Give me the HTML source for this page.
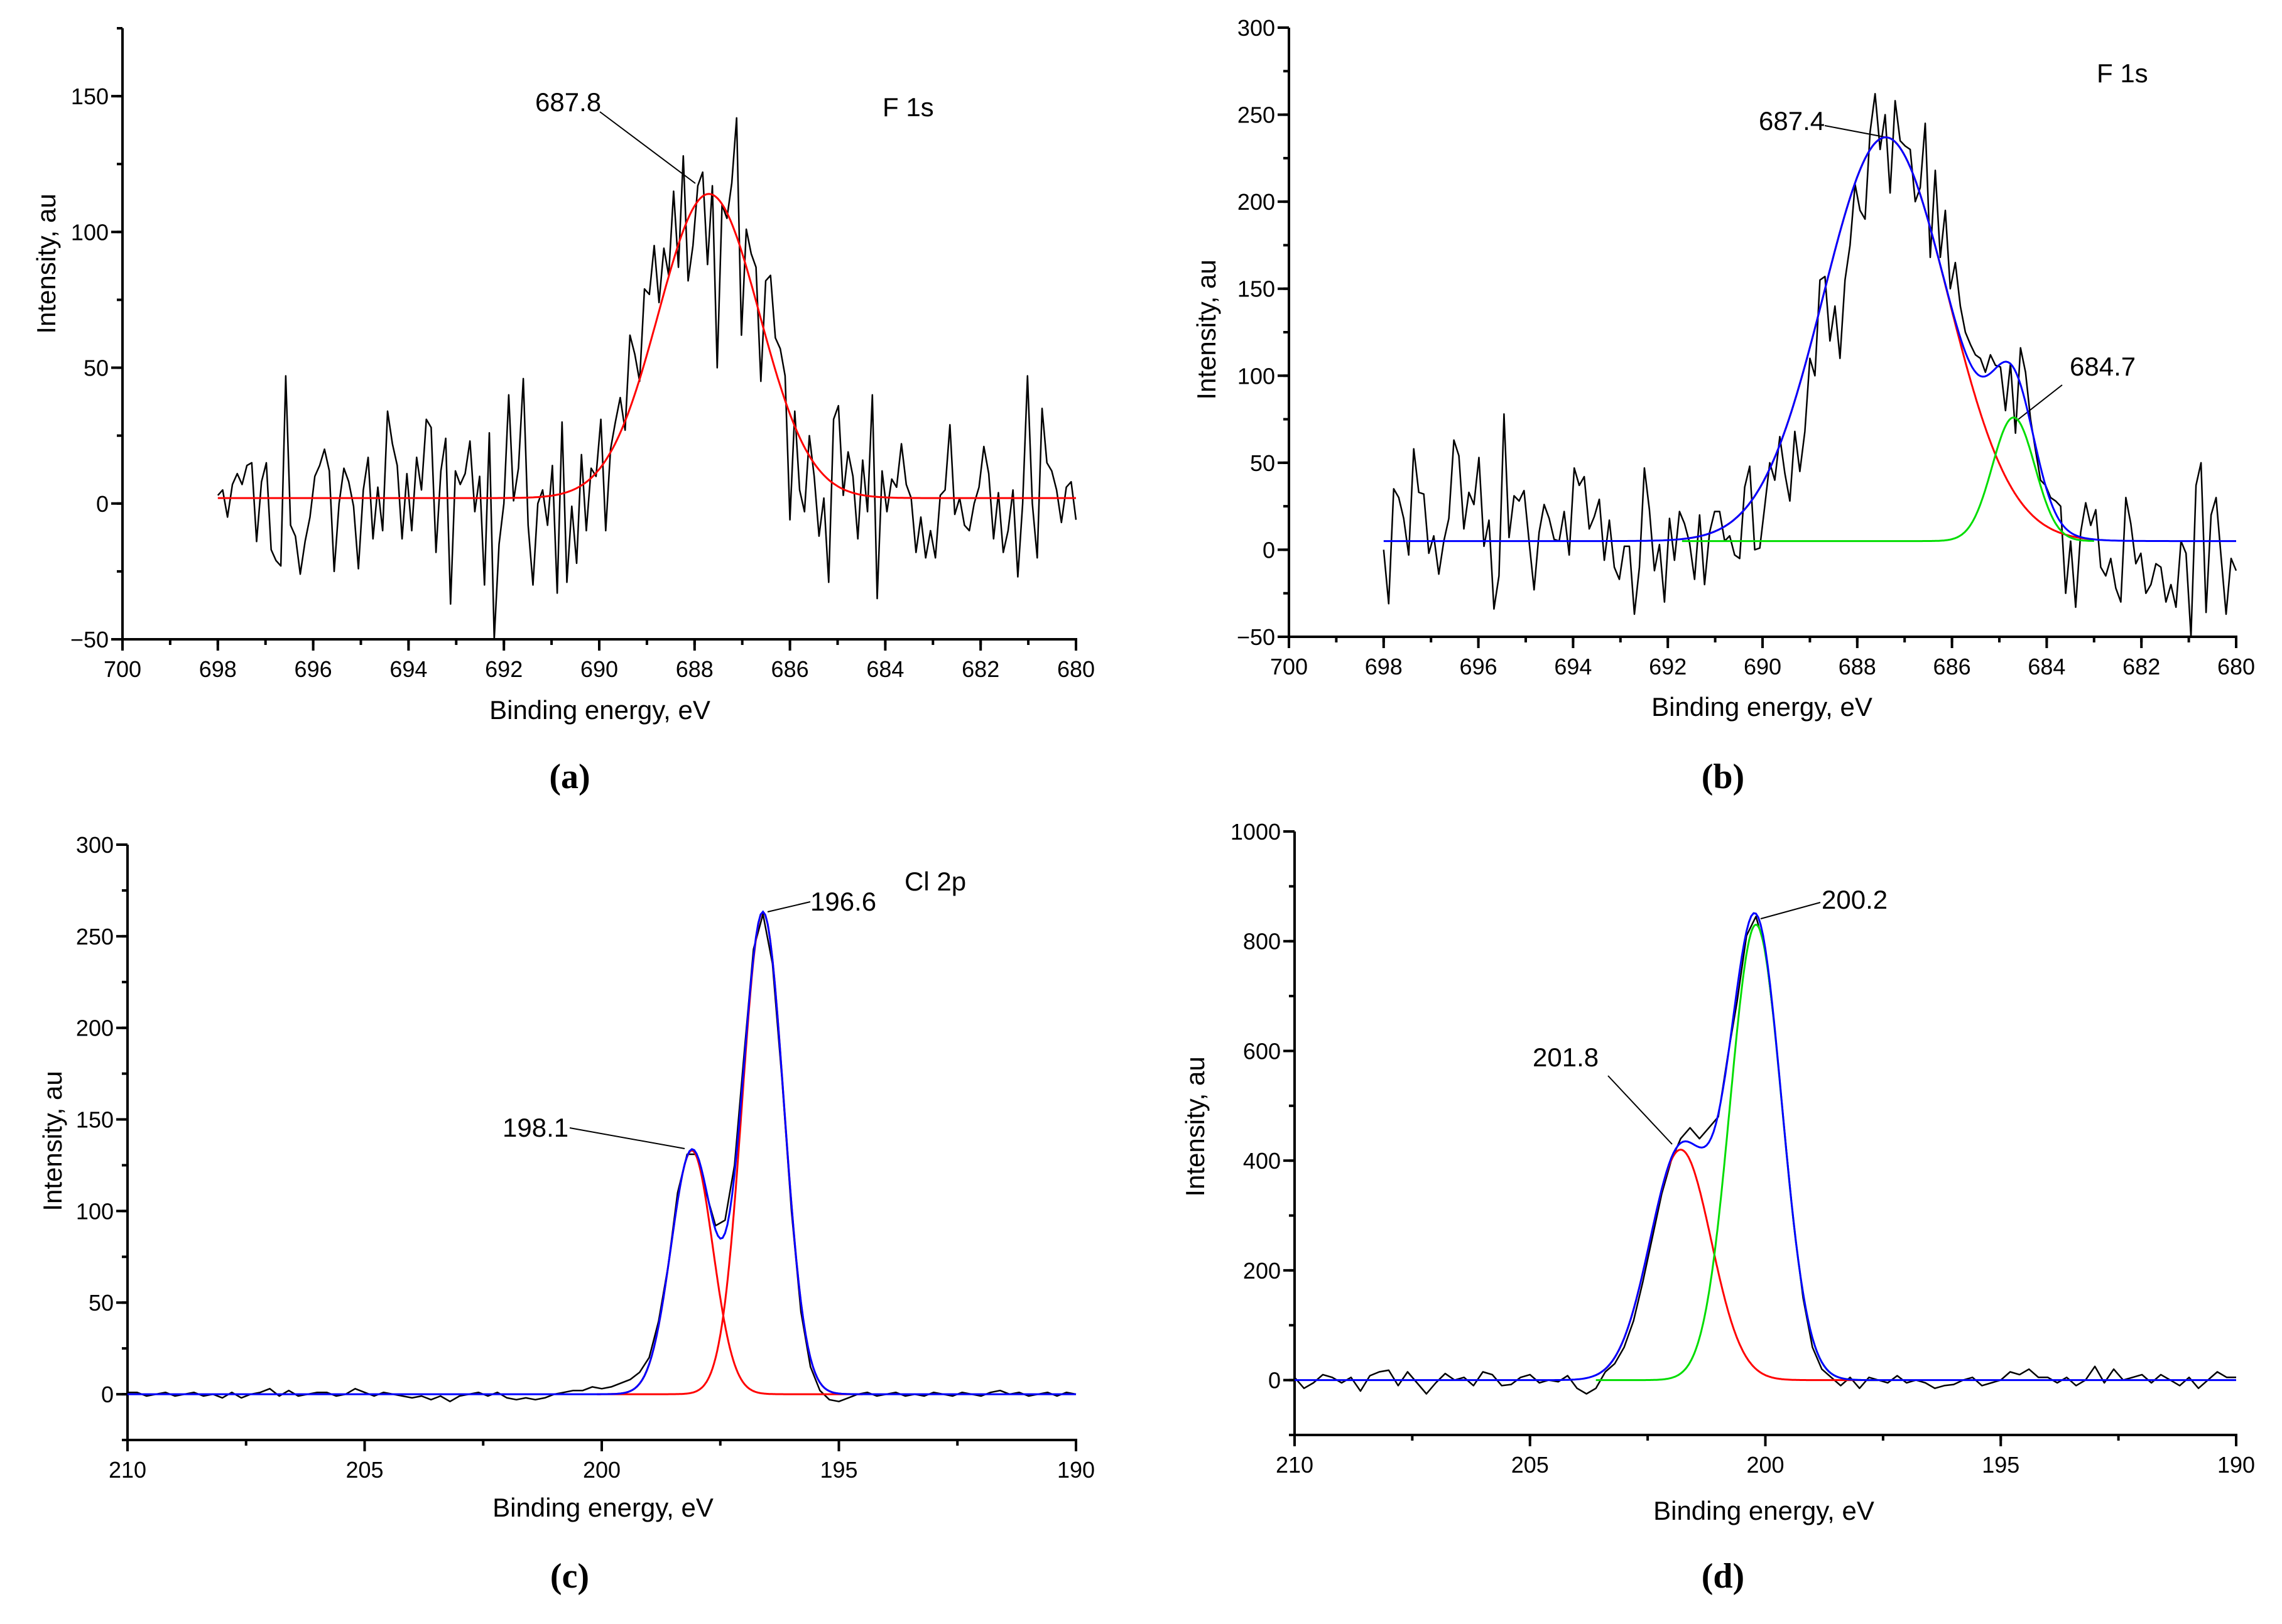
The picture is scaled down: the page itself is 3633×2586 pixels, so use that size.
<!DOCTYPE html>
<html><head><meta charset="utf-8"><title>XPS spectra</title>
<style>
html,body{margin:0;padding:0;background:#fff;}
svg{display:block;font-family:"Liberation Sans",Arial,sans-serif;}
.tl{font-size:36px;fill:#000;}
.at{font-size:42px;fill:#000;}
.ann{font-size:42px;fill:#000;}
.cap{font-family:"Liberation Serif",serif;font-size:56px;fill:#000;}
</style></head>
<body>
<svg id="fig" width="3633" height="2586" viewBox="0 0 3633 2586" xmlns="http://www.w3.org/2000/svg">
<g>
<text class="ann" x="852" y="177">687.8</text>
<line x1="955" y1="178" x2="1107" y2="292" stroke="#000" stroke-width="2"/>
<text class="ann" x="1405" y="185">F 1s</text>
<text class="at" x="955" y="1145" text-anchor="middle">Binding energy, eV</text>
<text class="at" transform="translate(88,420) rotate(-90)" text-anchor="middle">Intensity, au</text>
<text class="cap" x="907" y="1255" text-anchor="middle" font-weight="bold">(a)</text>
</g>
<g>
<text class="ann" x="2800" y="207">687.4</text>
<line x1="2905" y1="200" x2="3010" y2="220" stroke="#000" stroke-width="2"/>
<text class="ann" x="3295" y="598">684.7</text>
<line x1="3283" y1="613" x2="3209" y2="671" stroke="#000" stroke-width="2"/>
<text class="ann" x="3338" y="131">F 1s</text>
<text class="at" x="2805" y="1140" text-anchor="middle">Binding energy, eV</text>
<text class="at" transform="translate(1935,525) rotate(-90)" text-anchor="middle">Intensity, au</text>
<text class="cap" x="2743" y="1255" text-anchor="middle" font-weight="bold">(b)</text>
</g>
<g>
<text class="ann" x="1290" y="1450">196.6</text>
<text class="ann" x="1440" y="1418">Cl 2p</text>
<line x1="1290" y1="1436" x2="1222" y2="1452" stroke="#000" stroke-width="2"/>
<text class="ann" x="800" y="1810">198.1</text>
<line x1="907" y1="1796" x2="1090" y2="1829" stroke="#000" stroke-width="2"/>
<text class="at" x="960" y="2415" text-anchor="middle">Binding energy, eV</text>
<text class="at" transform="translate(98,1817) rotate(-90)" text-anchor="middle">Intensity, au</text>
<text class="cap" x="907" y="2528" text-anchor="middle" font-weight="bold">(c)</text>
</g>
<g>
<text class="ann" x="2900" y="1447">200.2</text>
<line x1="2898" y1="1437" x2="2803" y2="1463" stroke="#000" stroke-width="2"/>
<text class="ann" x="2440" y="1698">201.8</text>
<line x1="2560" y1="1713" x2="2662" y2="1822" stroke="#000" stroke-width="2"/>
<text class="at" x="2808" y="2420" text-anchor="middle">Binding energy, eV</text>
<text class="at" transform="translate(1917,1794) rotate(-90)" text-anchor="middle">Intensity, au</text>
<text class="cap" x="2743" y="2528" text-anchor="middle" font-weight="bold">(d)</text>
</g>
</svg>
<script>
// ---- Panel a (F 1s) data ----
var aRange = [698, 680];
var aCounts = [3,5,-5,7,11,7,14,15,-14,8,15,-17,-21,-23,47,-8,-12,-26,-14,-5,10,14,20,12,-25,0,13,8,-1,-24,5,17,-13,6,-10,34,22,14,-13,11,-10,17,5,31,28,-18,12,24,-37,12,7,11,23,-3,10,-30,26,-50,-15,0,40,1,13,46,-8,-30,0,5,-8,14,-33,30,-29,-1,-22,18,-10,13,10,31,-10,20,30,39,27,62,55,45,79,77,95,74,94,84,115,87,128,82,95,117,122,88,117,50,110,105,118,142,62,101,92,87,45,82,84,61,57,47,-6,34,5,-3,25,10,-12,2,-29,31,36,3,19,10,-13,16,-3,40,-35,12,-3,9,6,22,7,2,-18,-5,-20,-10,-20,3,5,29,-4,2,-8,-10,0,6,21,11,-13,4,-18,-10,5,-27,0,47,0,-20,35,15,12,5,-7,6,8,-6];
var aPeakCenters = [687.7];
var aPeakHeights = [112];
var aPeakSigmas = [1.06];
var aBaseline = [2];

// ---- Panel b (F 1s) data ----
var bRange = [698, 680];
var bCounts = [0,-31,35,30,18,-3,58,33,32,-2,8,-14,5,18,63,54,12,33,26,53,2,17,-34,-15,78,7,31,28,34,5,-23,10,26,18,6,5,22,-3,47,37,42,12,19,29,-6,17,-10,-17,2,2,-37,-10,47,23,-12,3,-30,18,-6,22,15,4,-17,20,-20,10,22,22,5,8,-3,-5,36,48,0,1,25,50,40,65,44,28,68,45,68,110,100,155,157,120,140,110,155,175,210,195,190,240,262,230,250,205,258,235,232,230,200,208,245,168,218,168,195,150,165,140,125,118,112,110,102,112,106,105,80,107,67,116,102,75,57,40,37,30,28,25,-25,5,-33,10,27,14,23,-10,-15,-5,-22,-30,30,15,-8,-2,-25,-20,-8,-10,-30,-20,-33,5,-2,-50,37,50,-36,20,30,-4,-37,-5,-12];
var bPeakCenters = [687.4, 684.7];
var bPeakHeights = [232, 71];
var bPeakSigmas = [1.32, 0.45];
var bBaseline = [5];

// ---- Panel c (Cl 2p) data ----
var cRange = [210, 190];
var cCounts = [1,1,-1,0,1,-1,0,1,-1,0,-2,1,-2,0,1,3,-1,2,-1,0,1,1,-1,0,3,1,-1,1,0,-1,-2,-1,-3,-1,-4,-1,0,1,-1,1,-2,-3,-2,-3,-2,0,1,2,2,4,3,4,6,8,12,20,40,70,110,131,131,110,92,95,125,185,243,262,235,172,100,45,15,2,-3,-4,-2,0,1,-1,0,1,-1,0,-1,1,0,-1,1,0,-1,1,2,0,1,-1,0,1,-1,1,0];
var cPeakCenters = [198.1, 196.6];
var cPeakHeights = [133, 263];
var cPeakSigmas = [0.44, 0.44];
var cBaseline = [0];

// ---- Panel d data ----
var dRange = [210, 190];
var dCounts = [5,-15,-5,10,5,-5,5,-20,8,15,18,-10,15,-5,-25,-5,12,0,5,-10,15,10,-10,-8,5,10,-5,0,-3,8,-15,-25,-15,15,30,60,108,180,260,340,400,440,460,440,460,480,590,690,810,845,785,640,460,285,150,60,20,5,-10,5,-15,5,0,-5,8,-5,0,-5,-15,-10,-8,0,5,-10,-5,0,15,10,20,5,5,-5,5,-10,0,25,-5,20,0,5,10,-5,10,0,-10,5,-15,0,15,5,5];
var dPeakCenters = [201.8, 200.2];
var dPeakHeights = [420, 830];
var dPeakSigmas = [0.65, 0.55];
var dBaseline = [0];

// ---- axis tick arrays ----
var abXTicks = [700,698,696,694,692,690,688,686,684,682,680];
var aYTicks = [-50,0,50,100,150];
var bYTicks = [-50,0,50,100,150,200,250,300];
var cdXTicks = [210,205,200,195,190];
var cYTicks = [0,50,100,150,200,250,300];
var dYTicks = [0,200,400,600,800,1000];

var NS = "http://www.w3.org/2000/svg";
var svg = document.getElementById("fig");

function mk(tag, attrs, parent) {
  var e = document.createElementNS(NS, tag);
  for (var k in attrs) e.setAttribute(k, attrs[k]);
  (parent || svg).appendChild(e);
  return e;
}

function panel(id, xDom, xPx, yDom, yPx, xTicks, xMinor, yTicks, yMinor) {
  var g = mk("g", {});
  
  
  var sx = function (v) { return xPx[0] + (v - xDom[0]) / (xDom[1] - xDom[0]) * (xPx[1] - xPx[0]); };
  var sy = function (v) { return yPx[0] + (v - yDom[0]) / (yDom[1] - yDom[0]) * (yPx[1] - yPx[0]); };
  var ax = mk("g", {}, g);
  
  
  var xa = mk("line", {x1: xPx[0] - 2, y1: yPx[0], x2: xPx[1] + 2, y2: yPx[0], stroke: "#000", "stroke-width": 4}, ax);
  
  
  var ya = mk("line", {x1: xPx[0], y1: yPx[0] + 2, x2: xPx[0], y2: yPx[1], stroke: "#000", "stroke-width": 4}, ax);
  
  
  var lo = Math.min(xDom[0], xDom[1]), hi = Math.max(xDom[0], xDom[1]);
  for (var v = lo; v <= hi + 1e-9; v += xMinor) {
    mk("line", {x1: sx(v), y1: yPx[0], x2: sx(v), y2: yPx[0] + 9, stroke: "#000", "stroke-width": 4}, ax);
  }
  xTicks.forEach(function (t) {
    mk("line", {x1: sx(t), y1: yPx[0], x2: sx(t), y2: yPx[0] + 18, stroke: "#000", "stroke-width": 4}, ax);
    var tx = mk("text", {x: sx(t), y: yPx[0] + 60, "text-anchor": "middle", "class": "tl"}, ax);
    tx.textContent = t;
    
    
  });
  for (var w = yDom[0]; w <= yDom[1] + 1e-9; w += yMinor) {
    mk("line", {x1: xPx[0] - 9, y1: sy(w), x2: xPx[0], y2: sy(w), stroke: "#000", "stroke-width": 4}, ax);
  }
  yTicks.forEach(function (t) {
    mk("line", {x1: xPx[0] - 18, y1: sy(t), x2: xPx[0], y2: sy(t), stroke: "#000", "stroke-width": 4}, ax);
    var ty = mk("text", {x: xPx[0] - 22, y: sy(t) + 13, "text-anchor": "end", "class": "tl"}, ax);
    ty.textContent = (t < 0 ? "\u2212" + (-t) : t);
    
    
  });
  return {g: g, sx: sx, sy: sy};
}

function dataLine(p, range, counts, color, name, width) {
  var n = counts.length, pts = [];
  for (var i = 0; i < n; i++) {
    var x = range[0] + (range[1] - range[0]) * i / (n - 1);
    pts.push(p.sx(x).toFixed(1) + "," + p.sy(counts[i]).toFixed(1));
  }
  var pl = mk("polyline", {points: pts.join(" "), fill: "none", stroke: color, "stroke-width": width || 2.5, "stroke-linejoin": "round"}, p.g);
  
  
}

function fitLine(p, from, to, centers, heights, sigmas, base, idx, color, name) {
  var pts = [], N = 400;
  for (var i = 0; i <= N; i++) {
    var x = from + (to - from) * i / N, y = base[0];
    for (var k = 0; k < centers.length; k++) {
      if (idx === null || idx === k) {
        var d = x - centers[k];
        y += heights[k] * Math.exp(-d * d / (2 * sigmas[k] * sigmas[k]));
      }
    }
    pts.push(p.sx(x).toFixed(1) + "," + p.sy(y).toFixed(1));
  }
  var pl = mk("polyline", {points: pts.join(" "), fill: "none", stroke: color, "stroke-width": 3}, p.g);
  
  
}

var pa = panel("a", [700, 680], [195, 1713], [-50, 175], [1018, 45], abXTicks, 1, aYTicks, 25);
dataLine(pa, aRange, aCounts, "#000", "spectrum-a");
fitLine(pa, 698, 680, aPeakCenters, aPeakHeights, aPeakSigmas, aBaseline, null, "#ff0000", "fit-a");

var pb = panel("b", [700, 680], [2052, 3560], [-50, 300], [1014, 44], abXTicks, 1, bYTicks, 25);
dataLine(pb, bRange, bCounts, "#000", "spectrum-b");
fitLine(pb, 691.7, 683, bPeakCenters, bPeakHeights, bPeakSigmas, bBaseline, 0, "#ff0000", "fit-b-peak-687-4");
fitLine(pb, 691.7, 683, bPeakCenters, bPeakHeights, bPeakSigmas, bBaseline, 1, "#00dd00", "fit-b-peak-684-7");
fitLine(pb, 698, 680, bPeakCenters, bPeakHeights, bPeakSigmas, bBaseline, null, "#0000ff", "fit-b-envelope");

var pc = panel("c", [210, 190], [203, 1713], [-25, 300], [2293, 1345], cdXTicks, 2.5, cYTicks, 25);
dataLine(pc, cRange, cCounts, "#000", "spectrum-c");
fitLine(pc, 200.1, 194.5, cPeakCenters, cPeakHeights, cPeakSigmas, cBaseline, 0, "#ff0000", "fit-c-peak-198-1");
fitLine(pc, 200.1, 194.5, cPeakCenters, cPeakHeights, cPeakSigmas, cBaseline, 1, "#ff0000", "fit-c-peak-196-6");
fitLine(pc, 210, 190, cPeakCenters, cPeakHeights, cPeakSigmas, cBaseline, null, "#0000ff", "fit-c-envelope");

var pd = panel("d", [210, 190], [2061, 3560], [-100, 1000], [2285, 1324], cdXTicks, 2.5, dYTicks, 100);
dataLine(pd, dRange, dCounts, "#000", "spectrum-d");
fitLine(pd, 203.6, 197.6, dPeakCenters, dPeakHeights, dPeakSigmas, dBaseline, 0, "#ff0000", "fit-d-peak-201-8");
fitLine(pd, 203.6, 197.6, dPeakCenters, dPeakHeights, dPeakSigmas, dBaseline, 1, "#00dd00", "fit-d-peak-200-2");
fitLine(pd, 210, 190, dPeakCenters, dPeakHeights, dPeakSigmas, dBaseline, null, "#0000ff", "fit-d-envelope");
</script>
</body></html>
